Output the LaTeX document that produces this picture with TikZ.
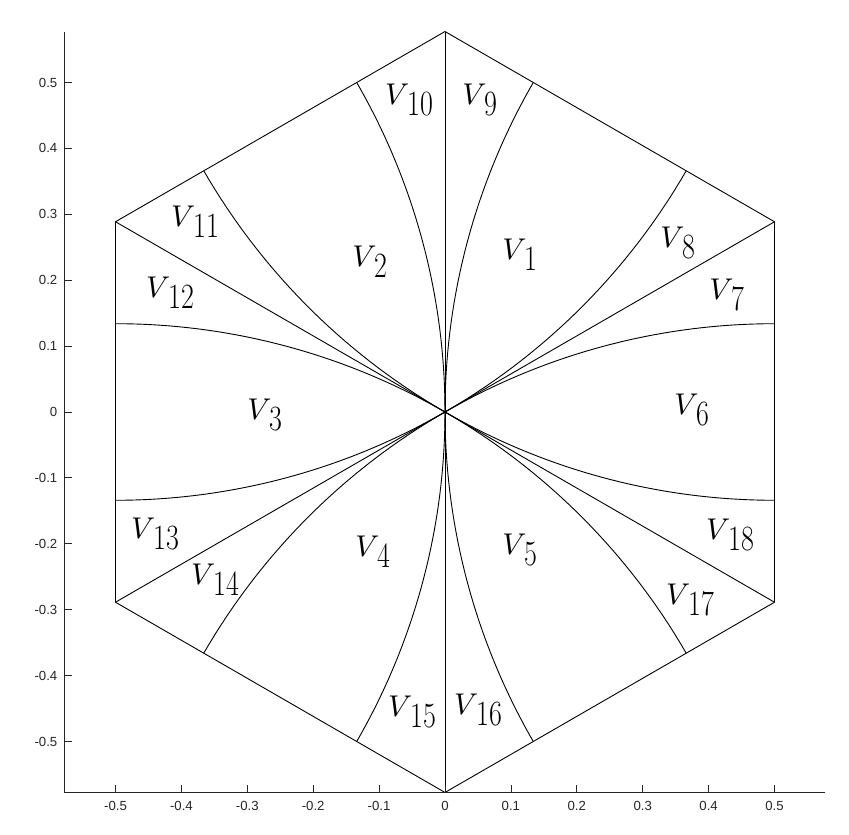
\documentclass[tikz,border=0pt]{standalone}
\usepackage{fontspec}
\newfontfamily\tickfont{Liberation Sans}
\definecolor{axgray}{rgb}{0.15,0.15,0.15}
\newcommand\vlab[1]{\scalebox{3}{$V$}\kern-2pt\raisebox{-11.5pt}{\scalebox{1}[1.27]{\fontsize{28}{28}\selectfont #1}}}
\tikzset{
  edge/.style={line width=0.9pt, black},
  axis/.style={line width=0.8pt, axgray},
  tick/.style={line width=0.8pt, axgray},
  ticklab/.style={text=axgray, font=\tickfont\fontsize{13.2}{14}\selectfont, inner sep=0pt},
  region/.style={inner sep=0pt}
}
\begin{document}
\begin{tikzpicture}[x=659pt,y=659pt]
\useasboundingbox (-0.67527,-0.64188) rectangle (0.61305,0.62519);
\coordinate (O) at (0,0);
\foreach \a in {90,30,-30,-90,-150,150} \coordinate (H\a) at (\a:0.57735);
% hexagon
\draw[edge] (H90)--(H30)--(H-30)--(H-90)--(H-150)--(H150)--cycle;
% spokes
\foreach \a in {90,30,-30,-90,-150,150} \draw[edge] (O)--(H\a);
% arcs of unit circles through the origin
\foreach \p in {0,60,...,300}
  \draw[edge] ({cos(\p)+cos(\p+150)},{sin(\p)+sin(\p+150)}) arc[start angle=\p+150,end angle=\p+210,radius=1];
% axes
\coordinate (AL) at (-0.57735,0.57735);
\coordinate (AO) at (-0.57735,-0.57735);
\coordinate (AR) at (0.57735,-0.57735);
\draw[axis] (AL)--(AO)--(AR);
\foreach \t/\l in {-0.5/-0.5,-0.4/-0.4,-0.3/-0.3,-0.2/-0.2,-0.1/-0.1,0/0,0.1/0.1,0.2/0.2,0.3/0.3,0.4/0.4,0.5/0.5}{
  \draw[tick] (\t,-0.57735) coordinate (xt) -- ++(0,7pt);
  \node[ticklab, anchor=north] at ([yshift=-9pt]xt) {\l};
  \draw[tick] (-0.57735,\t) coordinate (yt) -- ++(7pt,0);
  \node[ticklab, anchor=east] at ([xshift=-7pt]yt) {\l};
}
% region labels
\foreach \n/\px/\py in {1/520/255, 2/370/262, 3/265/415, 4/373/552, 5/520/550, 6/692/410,
  7/727/295, 8/678/243, 9/480/100, 10/409/100, 11/195/222, 12/170/293,
  13/155/534, 14/215/580, 15/412/712, 16/478/710, 17/690/600, 18/730/535}
  \node[region] (V\n) at ({(\px-445)/659},{(412-\py)/659}) {\vlab{\n}};
\end{tikzpicture}
\end{document}
